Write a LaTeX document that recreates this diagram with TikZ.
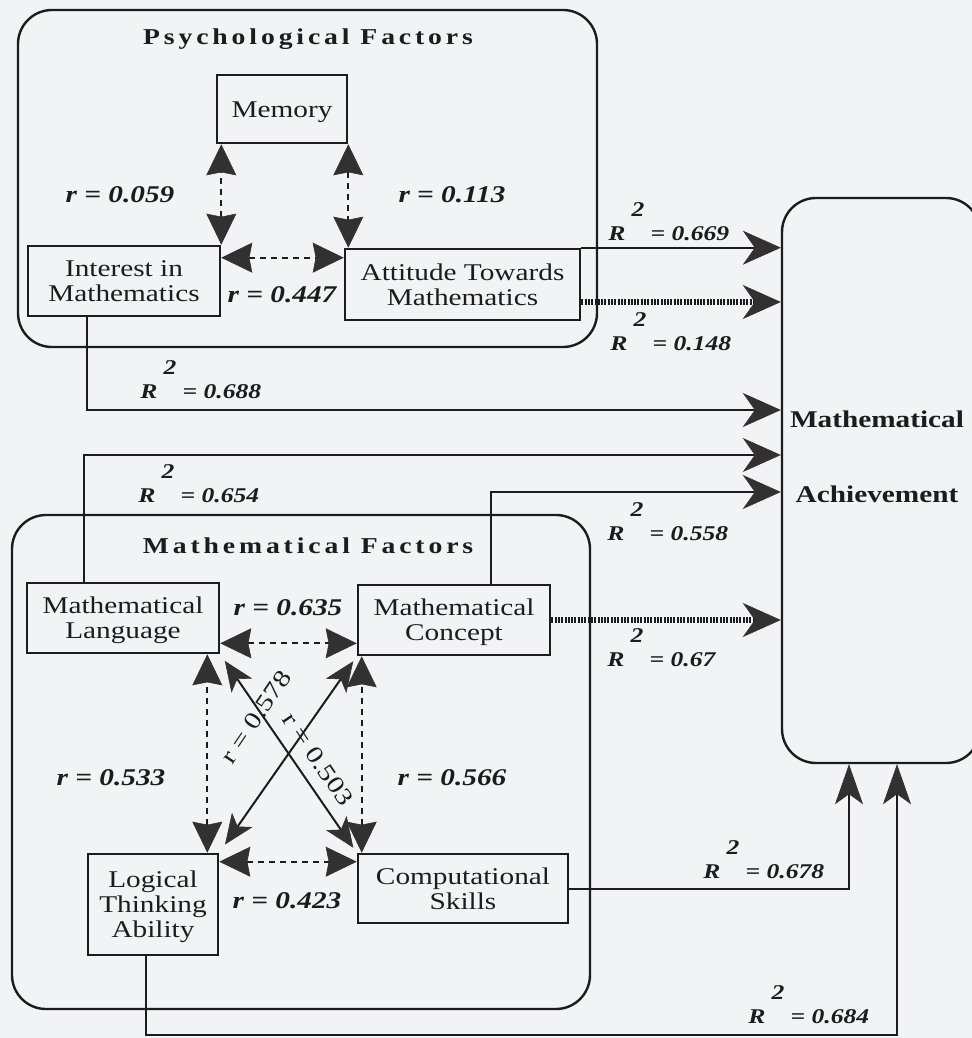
\documentclass[tikz,border=0pt]{standalone}
\usepackage{fontspec}
\setmainfont{Liberation Serif}
\newfontfamily\spacedfont[LetterSpace=14]{Liberation Serif}
\usepackage{graphicx}
\usetikzlibrary{arrows.meta,calc}
\definecolor{ink}{RGB}{28,28,30}
\definecolor{headc}{RGB}{50,48,48}
\definecolor{paper}{RGB}{241,243,245}
\newcommand{\hs}[1]{\scalebox{1.22}[1]{#1}}
\newcommand{\dn}[1]{\raisebox{-1.6pt}[\height][\depth]{#1}}
\newcommand{\boxfont}{\fontsize{12pt}{12.5pt}\selectfont}
\newcommand{\labfont}{\fontsize{12pt}{12pt}\selectfont\bfseries\itshape}
\newcommand{\diagfont}{\fontsize{12pt}{12pt}\selectfont}
\newcommand{\rfont}{\fontsize{10.5pt}{11pt}\selectfont\bfseries\itshape}
\newcommand{\titlefont}{\fontsize{11.35pt}{12pt}\spacedfont\bfseries}
\newcommand{\achfont}{\fontsize{12pt}{12pt}\selectfont\bfseries}
\newcommand{\Rsq}[1]{\hs{R\makebox[0.98em]{\raisebox{1.1em}{2}}= #1}}
\newcommand{\twol}[2]{\dn{\hs{\begin{tabular}{@{}c@{}}#1\\#2\end{tabular}}}}
\newcommand{\threel}[3]{\dn{\hs{\begin{tabular}{@{}c@{}}#1\\#2\\#3\end{tabular}}}}
\tikzset{
  chead/.tip={Stealth[length=15.5pt,width=15pt,inset=1.5pt,line width=0.3pt,color=headc]},
  dhead/.tip={Stealth[length=15pt,width=12.5pt,inset=4pt,line width=0.3pt,color=headc]},
  rhead/.tip={Stealth[length=19pt,width=17pt,inset=6pt,line width=0.3pt,color=headc]},
  uhead/.tip={Stealth[length=20pt,width=14pt,inset=5pt,line width=0.3pt,color=headc]},
  fbox/.style={draw=ink, line width=1.3pt, inner sep=0pt, font=\boxfont, text=ink},
  grpbox/.style={draw=ink, line width=1.2pt, rounded corners=17pt, inner sep=0pt},
  corr/.style={draw=ink, line width=1pt, dash pattern=on 3pt off 2.5pt, chead-chead},
  diag/.style={draw=ink, line width=1pt, dhead-dhead},
  rline/.style={draw=ink, line width=1pt, -rhead},
  rdot/.style={draw=ink, line width=2.6pt, dash pattern=on 1pt off 0.65pt, -rhead},
  upline/.style={draw=ink, line width=1pt, -uhead},
  rlab/.style={font=\rfont, text=ink, inner sep=0pt, anchor=base west},
  clab/.style={font=\labfont, text=ink, inner sep=0pt, anchor=base},
  dlab/.style={font=\diagfont, text=ink, inner sep=0pt, anchor=center},
  ttl/.style={font=\titlefont, text=ink, inner sep=0pt, anchor=base},
  achtxt/.style={font=\achfont, text=ink, inner sep=0pt, anchor=base},
}
\begin{document}
\begin{tikzpicture}[x=0.5pt,y=-0.5pt]
\useasboundingbox (0,0) rectangle (972,1038);
\fill[paper] (0,0) rectangle (972,1038);
\begin{scope}
\clip (0,0) rectangle (972,1038);
\node[grpbox, minimum width=99pt, minimum height=282.5pt] (ach) at (881,480.5) {};
\end{scope}
% groups
\node[grpbox, minimum width=289.5pt, minimum height=168.5pt] (psy) at (307.5,178.5) {};
\node[grpbox, minimum width=289pt, minimum height=247pt] (mat) at (301,762) {};
\node[ttl] (psyT) at (308,45) {\hs{Psychological Factors}};
\node[ttl] (matT) at (308,553) {\hs{Mathematical Factors}};
\node[achtxt] (achT1) at (877,427) {\hs{Mathematical}};
\node[achtxt] (achT2) at (877,502) {\hs{Achievement}};
% boxes
\node[fbox, minimum width=65pt, minimum height=34pt] (mem) at (282,109) {\dn{\hs{Memory}}};
\node[fbox, minimum width=96pt, minimum height=35pt] (int) at (124,281) {\twol{Interest in}{Mathematics}};
\node[fbox, minimum width=117.5pt, minimum height=35.5pt] (att) at (462.5,284.5) {\twol{Attitude Towards}{Mathematics}};
\node[fbox, minimum width=96pt, minimum height=35pt] (lang) at (123,618) {\twol{Mathematical}{Language}};
\node[fbox, minimum width=96pt, minimum height=35pt] (con) at (454,620) {\twol{Mathematical}{Concept}};
\node[fbox, minimum width=65pt, minimum height=50.5pt] (log) at (153,904.5) {\threel{Logical}{Thinking}{Ability}};
\node[fbox, minimum width=105pt, minimum height=34.5pt] (comp) at (463,888.5) {\twol{Computational}{Skills}};
% correlation arrows (psychological)
\draw[corr] (int.north east) -- (int.north east |- mem.south);
\draw[corr] (mem.south east) -- (mem.south east |- att.north);
\coordinate (ia) at ([yshift=-6.5pt]int.north east);
\draw[corr] (ia) -- (ia -| att.west);
% correlation arrows (mathematical)
\coordinate (lc) at ([yshift=5.5pt]lang.south east);
\draw[corr] (lc) -- (lc -| con.west);
\coordinate (ll) at ([xshift=-6pt]log.north east);
\draw[corr] (ll) -- (ll |- lang.south);
\coordinate (cc) at ([xshift=2.5pt]comp.north west);
\draw[corr] (cc) -- (cc |- con.south);
\coordinate (lg) at ([yshift=-4.5pt]log.north east);
\draw[corr] (lg) -- (lg -| comp.west);
\draw[diag, shorten <=4pt, shorten >=3pt] (lang.south east) -- (comp.north west);
\draw[diag, shorten <=3pt, shorten >=5pt] (con.south west) -- (log.north east);
% arrows to achievement
\draw[rline] (att.north east) -- (att.north east -| ach.west);
\coordinate (a2) at ([yshift=-8.75pt]att.east);
\draw[rdot] (a2) -- (a2 -| ach.west);
\coordinate (s3) at ([xshift=30pt]int.south west);
\coordinate (y3) at (0,410);
\draw[rline] (s3) |- (y3 -| ach.west);
\coordinate (s4) at ([xshift=29pt]lang.north west);
\coordinate (y4) at (0,455);
\draw[rline] (s4) |- (y4 -| ach.west);
\coordinate (s5) at ([xshift=67pt]con.north west);
\coordinate (y5) at (0,492);
\draw[rline] (s5) |- (y5 -| ach.west);
\draw[rdot] (con.east) -- (con.east -| ach.west);
\coordinate (x7) at (849,0);
\draw[upline] (comp.east) -| (x7 |- ach.south);
\coordinate (s8) at ([xshift=29.5pt]log.south west);
\coordinate (c8) at (897,1035);
\draw[upline] (s8) |- (c8) -- (c8 |- ach.south);
% correlation labels
\node[clab] (r059) at (120,202) {\hs{r = 0.059}};
\node[clab] (r113) at (452,202) {\hs{r = 0.113}};
\node[clab] (r447) at (282,302) {\hs{r = 0.447}};
\node[clab] (r635) at (288,615) {\hs{r = 0.635}};
\node[clab] (r533) at (111,785) {\hs{r = 0.533}};
\node[clab] (r566) at (452,785) {\hs{r = 0.566}};
\node[clab] (r423) at (287,908) {\hs{r = 0.423}};
\node[dlab, rotate=-56] (r503) at (318,759) {\hs{r = 0.503}};
\node[dlab, rotate=56] (r578) at (256,717) {\hs{r = 0.578}};
% R squared labels
\node[rlab] (R669) at (608,240) {\Rsq{0.669}};
\node[rlab] (R148) at (610,350) {\Rsq{0.148}};
\node[rlab] (R688) at (140,398) {\Rsq{0.688}};
\node[rlab] (R654) at (138,502) {\Rsq{0.654}};
\node[rlab] (R558) at (607,540) {\Rsq{0.558}};
\node[rlab] (R67) at (607,666) {\Rsq{0.67}};
\node[rlab] (R678) at (703,878) {\Rsq{0.678}};
\node[rlab] (R684) at (748,1023) {\Rsq{0.684}};
\end{tikzpicture}
\end{document}
